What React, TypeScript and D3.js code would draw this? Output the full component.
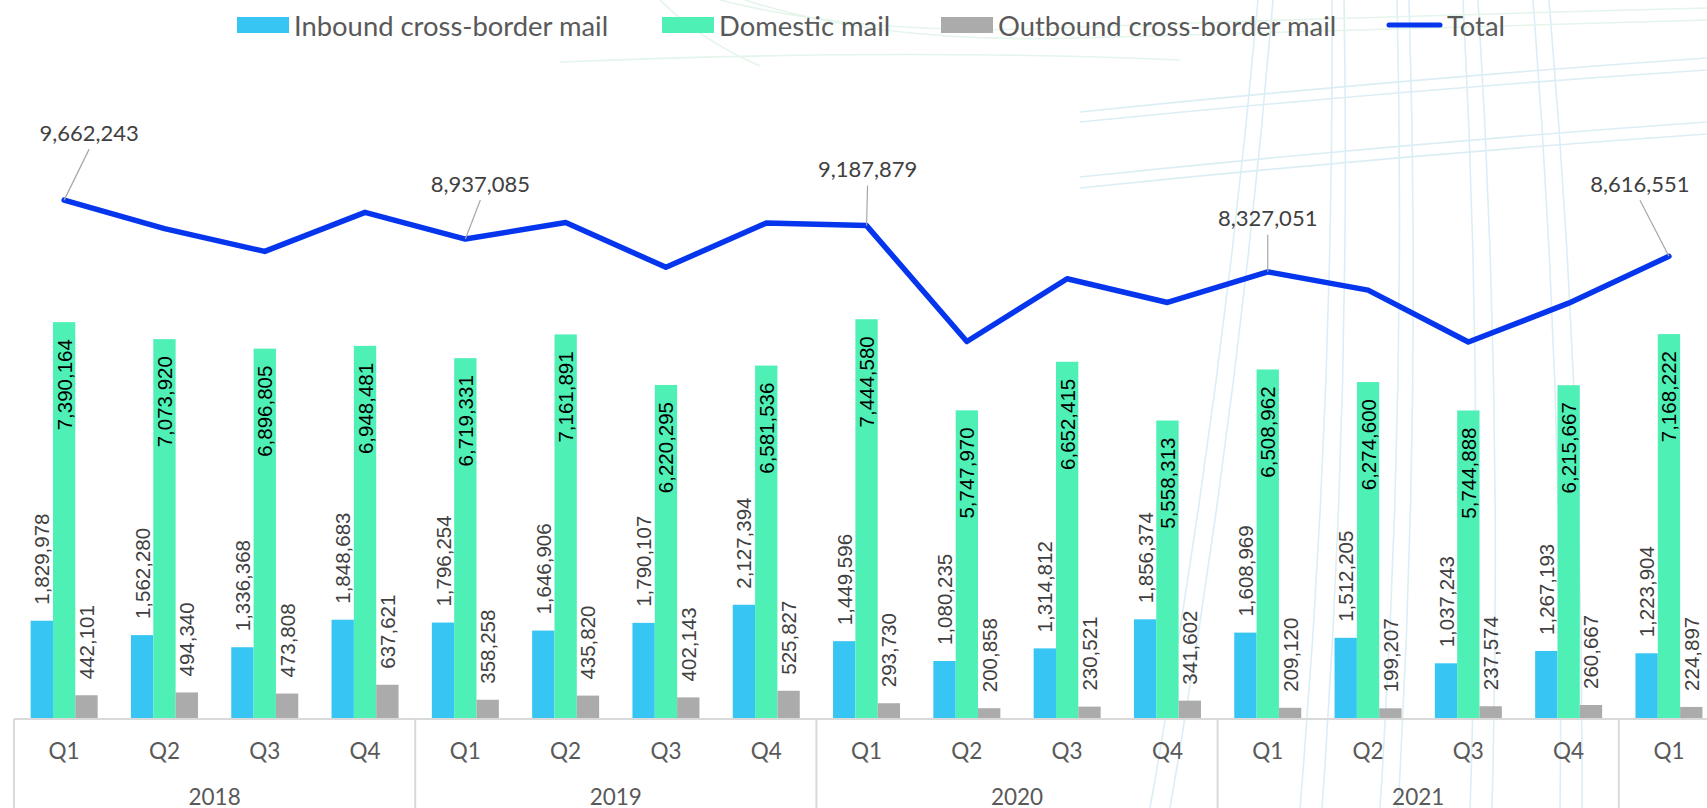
import * as d3 from "d3";

const quarters = ["Q1", "Q2", "Q3", "Q4", "Q1", "Q2", "Q3", "Q4", "Q1", "Q2", "Q3", "Q4", "Q1", "Q2", "Q3", "Q4", "Q1"];
const years = ["2018", "2019", "2020", "2021", "2022"];
const yearOfQuarter = [0, 0, 0, 0, 1, 1, 1, 1, 2, 2, 2, 2, 3, 3, 3, 3, 4];

const inbound = [1829978, 1562280, 1336368, 1848683, 1796254, 1646906, 1790107, 2127394, 1449596, 1080235, 1314812, 1856374, 1608969, 1512205, 1037243, 1267193, 1223904];
const domestic = [7390164, 7073920, 6896805, 6948481, 6719331, 7161891, 6220295, 6581536, 7444580, 5747970, 6652415, 5558313, 6508962, 6274600, 5744888, 6215667, 7168222];
const outbound = [442101, 494340, 473808, 637621, 358258, 435820, 402143, 525827, 293730, 200858, 230521, 341602, 209120, 199207, 237574, 260667, 224897];
const total = [9662243, 9130540, 8706981, 9434785, 8937085, 9244617, 8412545, 9234757, 9187879, 7029063, 8197748, 7756289, 8327051, 7986012, 7019705, 7743527, 8616551];
// which totals carry a label
const totalLabelled = [0, 4, 8, 12, 16];

const seriesNames = ["Inbound cross-border mail", "Domestic mail", "Outbound cross-border mail"];
const colors = ["#37C6F4", "#4FF0B6", "#ABABAB"];
const lineColor = "#0536EE";

// label placement (offset of text centre from point)
const labelOffsets: Record<number, [number, number]> = {
  0: [25, -68],
  4: [15, -56],
  8: [1, -57],
  12: [0, -54],
  16: [-29, -73],
};

const W = 1707;
const H = 808;
const left = 14;
const step = 100.3;
const baseY = 719;

const fmt = d3.format(",");

function Background() {
  const blue = "#dcEef5";
  const green = "#e4f5eb";
  const vert = [
    [1258, 1150],
    [1273, 1170],
    [1332, 1300],
    [1344, 1322],
    [1397, 1380],
    [1409, 1398],
    [1463, 1470],
    [1478, 1492],
    [1533, 1560],
    [1549, 1582],
  ];
  const horiz = [
    [100, 58],
    [110, 70],
    [165, 122],
    [176, 134],
  ];
  return (
    <g fill="none" strokeWidth={1.6}>
      {vert.map(([a, b], i) => (
        <path key={"v" + i} d={`M${a},0 Q${(a + b) / 2 + 18},${H / 2} ${b},${H}`} stroke={blue} />
      ))}
      {horiz.map(([a, b], i) => (
        <path key={"h" + i} d={`M1080,${a + 12} Q1400,${(a + b) / 2} ${W},${b}`} stroke={blue} />
      ))}
      <path d="M660,0 Q700,40 760,66" stroke={green} />
      <path d="M720,0 Q860,36 1060,28 T1707,8" stroke={green} />
      <path d="M745,0 Q880,44 1080,38 T1707,20" stroke={green} />
      <path d="M560,62 Q900,48 1180,60" stroke={green} />
    </g>
  );
}

export default function App() {
  const idx = d3.range(quarters.length);
  const x = d3.scaleBand<number>().domain(idx).range([left, left + step * quarters.length]).padding(0);
  const groupW = 67;
  const xs = d3.scaleBand<number>().domain([0, 1, 2]).range([0, groupW]).padding(0);
  const y = d3.scaleLinear().domain([0, 10000000]).range([baseY, baseY - 537]);
  const cx = (i: number) => (x(i) as number) + x.bandwidth() / 2;

  const series = [inbound, domestic, outbound];

  const line = d3
    .line<number>()
    .x((_, i) => cx(i))
    .y((d) => y(d));

  // year groups
  const yearGroups = years.map((yr, yi) => {
    const members = idx.filter((i) => yearOfQuarter[i] === yi);
    return { yr, first: members[0], last: members[members.length - 1], n: members.length };
  });

  // legend layout
  const legend = [
    { name: seriesNames[0], sx: 237, tx: 294, kind: "bar", c: colors[0] },
    { name: seriesNames[1], sx: 662, tx: 719, kind: "bar", c: colors[1] },
    { name: seriesNames[2], sx: 941, tx: 998, kind: "bar", c: colors[2] },
    { name: "Total", sx: 1386, tx: 1447, kind: "line", c: lineColor },
  ];

  const labelFont = "'Liberation Sans', Arial, sans-serif";
  const uiFont = "Lato, 'Open Sans', sans-serif";

  return (
    <svg width={W} height={H} style={{ position: "absolute", left: 0, top: 0, background: "#fff" }}>
      <rect width={W} height={H} fill="#fff" />
      <Background />

      {/* legend */}
      <g fontFamily={uiFont} fontSize={27.4} fill="#595959">
        {legend.map((l) =>
          l.kind === "bar" ? (
            <g key={l.name}>
              <rect x={l.sx} y={17} width={52} height={16} fill={l.c} />
              <text x={l.tx} y={25} dominantBaseline="central">{l.name}</text>
            </g>
          ) : (
            <g key={l.name}>
              <line x1={l.sx + 3} x2={l.sx + 54} y1={25} y2={25} stroke={l.c} strokeWidth={5} strokeLinecap="round" />
              <text x={l.tx} y={25} dominantBaseline="central">{l.name}</text>
            </g>
          )
        )}
      </g>

      {/* bars */}
      {series.map((vals, s) => (
        <g key={"s" + s} fill={colors[s]}>
          {vals.map((v, i) => {
            const bx = (x(i) as number) + (step - groupW) / 2 + (xs(s) as number);
            return <rect key={i} x={bx} y={y(v)} width={xs.bandwidth()} height={baseY - y(v)} />;
          })}
        </g>
      ))}

      {/* axis */}
      <line x1={left} x2={W} y1={baseY} y2={baseY} stroke="#d9d9d9" strokeWidth={2} />
      <g stroke="#d9d9d9" strokeWidth={2}>
        <line x1={left} x2={left} y1={baseY} y2={H} />
        {yearGroups.slice(0, -1).map((g) => (
          <line key={g.yr} x1={(x(g.last) as number) + step} x2={(x(g.last) as number) + step} y1={baseY} y2={H} />
        ))}
      </g>
      <g fontFamily={uiFont} fontSize={22.5} fill="#595959" textAnchor="middle">
        {quarters.map((q, i) => (
          <text key={i} x={cx(i)} y={750} dominantBaseline="central">{q}</text>
        ))}
        {yearGroups
          .filter((g) => g.n === 4)
          .map((g) => (
            <text key={g.yr} x={((x(g.first) as number) + (x(g.last) as number) + step) / 2} y={796} dominantBaseline="central">
              {g.yr}
            </text>
          ))}
      </g>

      {/* bar labels */}
      <g fontFamily={labelFont} fontSize={20.5}>
        {series.map((vals, s) =>
          vals.map((v, i) => {
            const bx = (x(i) as number) + (step - groupW) / 2 + (xs(s) as number) + xs.bandwidth() / 2;
            const inside = s === 1;
            const ty = inside ? y(v) + 17 : y(v) - 16;
            return (
              <text
                key={s + "-" + i}
                transform={`translate(${bx},${ty}) rotate(-90)`}
                textAnchor={inside ? "end" : "start"}
                dominantBaseline="central"
                fill={inside ? "#000" : "#404040"}
              >
                {fmt(v)}
              </text>
            );
          })
        )}
      </g>

      {/* total line */}
      <path d={line(total) || ""} fill="none" stroke={lineColor} strokeWidth={5.5} strokeLinejoin="round" strokeLinecap="round" />

      {/* total labels */}
      <g fontFamily={uiFont} fontSize={22} fill="#404040">
        {totalLabelled.map((i) => {
          const [dx, dy] = labelOffsets[i];
          const px = cx(i);
          const py = y(total[i]);
          const tx = px + dx;
          const ty = py + dy;
          return (
            <g key={"t" + i}>
              <line x1={tx} y1={ty + 17} x2={px} y2={py} stroke="#a6a6a6" strokeWidth={1.2} />
              <text x={tx} y={ty} textAnchor="middle" dominantBaseline="central">{fmt(total[i])}</text>
            </g>
          );
        })}
      </g>
    </svg>
  );
}
